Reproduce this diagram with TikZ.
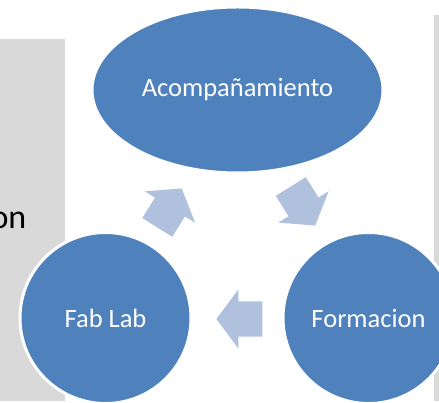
\documentclass[tikz,border=0pt]{standalone}
\usepackage{fontspec}
\setmainfont{Carlito}
\usetikzlibrary{shapes.geometric,shapes.arrows}
\definecolor{cycleblue}{RGB}{79,129,189}
\definecolor{arrowblue}{RGB}{176,193,221}
\definecolor{panelgray}{RGB}{217,217,217}
\begin{document}
\begin{tikzpicture}[x=1pt, y=1pt,
    bubble/.style = {circle, draw=white, line width=3pt, fill=cycleblue, text=white,
                     minimum size=171pt, inner sep=0pt, font=\fontsize{26.5}{30}\selectfont},
    topbubble/.style = {ellipse, draw=white, line width=3pt, fill=cycleblue, text=white,
                        minimum width=291pt, minimum height=166pt, inner sep=0pt,
                        font=\fontsize{26.5}{30}\selectfont},
    cyclearrow/.style = {single arrow, fill=arrowblue, draw=none, inner xsep=0pt, inner ysep=17.5pt,
                         minimum height=46pt, minimum width=59pt,
                         single arrow head extend=12pt, single arrow tip angle=107}]
            \useasboundingbox (0,0) rectangle (439,403);
            % gray panels behind
            \fill[panelgray] (0,2) rectangle (65,364);
            \fill[panelgray] (434,2) rectangle (445,388);
            \node[anchor=base east, inner sep=0pt, font=\fontsize{34}{40}\selectfont] (cut) at (26.5,174) {on};
            % cycle
            \node[topbubble] (acomp) at (237.5,313) {Acompañamiento};
            \node[bubble] (fablab) at (105.5,85) {Fab Lab};
            \node[bubble] (formacion) at (368.5,85) {Formacion};
            \node[cyclearrow, rotate=58] (a1) at (166,189.5) {};
            \node[cyclearrow, rotate=-58] (a2) at (299.5,202.5) {};
            \node[cyclearrow, rotate=180] (a3) at (246,84) {};
        \end{tikzpicture}
\end{document}
